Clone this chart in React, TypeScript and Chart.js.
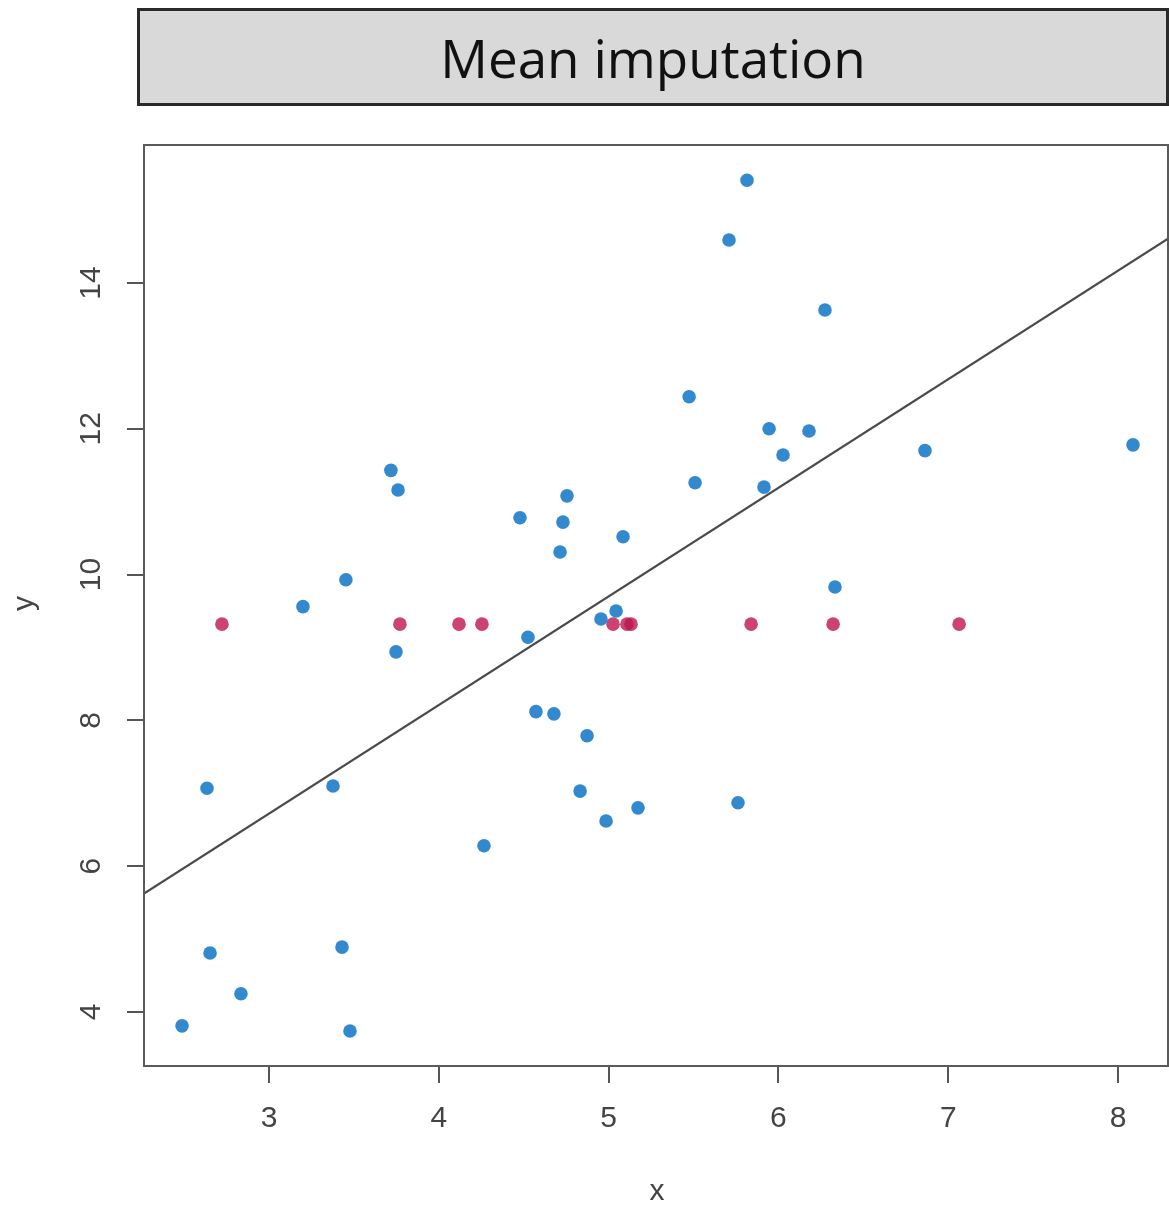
import React, { useEffect, useRef } from "react";
import { Chart, registerables } from "chart.js";

Chart.register(...registerables);

const titleText = "Mean imputation";
const xLabel = "x";
const yLabel = "y";

const observedX = [
  5.815, 5.709, 6.274, 5.474, 5.945, 6.18, 6.863, 8.088, 6.027, 3.718,
  3.76, 5.509, 5.915, 4.755, 4.478, 4.731, 5.085, 4.714, 3.453, 6.333,
  3.2, 5.044, 4.955, 4.525, 3.748, 4.572, 4.678, 4.873, 2.635, 3.377,
  4.832, 5.762, 5.173, 4.985, 4.266, 2.653, 3.43, 2.835, 2.488, 3.477,
];
const observedY = [
  15.41, 14.59, 13.63, 12.44, 12.0, 11.97, 11.7, 11.78, 11.64, 11.43,
  11.16, 11.26, 11.2, 11.08, 10.78, 10.72, 10.52, 10.31, 9.93, 9.83,
  9.56, 9.5, 9.39, 9.14, 8.94, 8.12, 8.09, 7.79, 7.07, 7.1,
  7.03, 6.87, 6.8, 6.62, 6.28, 4.81, 4.89, 4.25, 3.81, 3.74,
];
const imputedX = [2.723, 3.771, 4.119, 4.254, 5.026, 5.108, 5.132, 5.839, 6.322, 7.064];
const imputedY = [9.32, 9.32, 9.32, 9.32, 9.32, 9.32, 9.32, 9.32, 9.32, 9.32];

const xTicks = [3, 4, 5, 6, 7, 8];
const yTicks = [4, 6, 8, 10, 12, 14];
const xRange = [2.264, 8.294];
const yRange = [3.259, 15.893];

const fitIntercept = 2.25;
const fitSlope = 1.49;

const W = 1169;
const H = 1215;

export default function App() {
  const ref = useRef<HTMLCanvasElement | null>(null);

  useEffect(() => {
    const canvas = ref.current;
    if (!canvas) return;

    const boxAndLabels = {
      id: "boxAndLabels",
      afterDraw(chart: any) {
        const { ctx, chartArea, scales } = chart;
        const xs = scales.x;
        const ys = scales.y;
        ctx.save();
        ctx.strokeStyle = "#5a5a5a";
        ctx.lineWidth = 2;
        ctx.strokeRect(chartArea.left, chartArea.top, chartArea.right - chartArea.left, chartArea.bottom - chartArea.top);
        ctx.fillStyle = "#444";
        ctx.font = "30px 'Liberation Sans', Arial, sans-serif";
        ctx.textAlign = "center";
        ctx.textBaseline = "middle";
        xTicks.forEach((v) => {
          ctx.fillText(String(v), xs.getPixelForValue(v), 1119);
        });
        yTicks.forEach((v) => {
          ctx.save();
          ctx.translate(92, ys.getPixelForValue(v));
          ctx.rotate(-Math.PI / 2);
          ctx.fillText(String(v), 0, 0);
          ctx.restore();
        });
        ctx.fillText(xLabel, (chartArea.left + chartArea.right) / 2 + 1, 1192);
        ctx.save();
        ctx.translate(25, (chartArea.top + chartArea.bottom) / 2 - 2);
        ctx.rotate(-Math.PI / 2);
        ctx.fillText(yLabel, 0, 0);
        ctx.restore();
        ctx.restore();
      },
    };

    const chart = new Chart(canvas, {
      type: "scatter",
      data: {
        datasets: [
          {
            type: "line" as any,
            label: "fit",
            data: [
              { x: xRange[0], y: fitIntercept + fitSlope * xRange[0] },
              { x: xRange[1], y: fitIntercept + fitSlope * xRange[1] },
            ],
            borderColor: "#4a4a4a",
            borderWidth: 2.2,
            pointRadius: 0,
            fill: false,
            order: 0,
          },
          {
            label: "observed",
            data: observedX.map((x, i) => ({ x, y: observedY[i] })),
            backgroundColor: "rgba(0,108,194,0.8)",
            borderWidth: 0,
            pointRadius: 6.8,
            order: 1,
          },
          {
            label: "imputed",
            data: imputedX.map((x, i) => ({ x, y: imputedY[i] })),
            backgroundColor: "rgba(190,20,80,0.8)",
            borderWidth: 0,
            pointRadius: 6.8,
            order: 1,
          },
        ],
      },
      options: {
        animation: false,
        responsive: false,
        devicePixelRatio: 1,
        layout: { autoPadding: false, padding: { top: 145, left: 0, right: 1, bottom: 0 } },
        plugins: {
          legend: { display: false },
          tooltip: { enabled: false },
          title: { display: false },
        },
        scales: {
          x: {
            type: "linear",
            min: xRange[0],
            max: xRange[1],
            border: { display: false },
            grid: {
              display: true,
              drawOnChartArea: false,
              drawTicks: true,
              tickLength: 17,
              color: "#555",
              lineWidth: 2,
            },
            ticks: { display: false },
            afterBuildTicks: (scale: any) => {
              scale.ticks = xTicks.map((v) => ({ value: v }));
            },
            afterFit: (scale: any) => {
              scale.height = 149;
            },
          },
          y: {
            type: "linear",
            min: yRange[0],
            max: yRange[1],
            border: { display: false },
            grid: {
              display: true,
              drawOnChartArea: false,
              drawTicks: true,
              tickLength: 17,
              color: "#555",
              lineWidth: 2,
            },
            ticks: { display: false },
            afterBuildTicks: (scale: any) => {
              scale.ticks = yTicks.map((v) => ({ value: v }));
            },
            afterFit: (scale: any) => {
              scale.width = 144;
            },
          },
        },
      },
      plugins: [boxAndLabels],
    });

    return () => chart.destroy();
  }, []);

  return (
    <div
      style={{
        position: "fixed",
        left: 0,
        top: 0,
        width: W,
        height: H,
        overflow: "hidden",
        background: "#fff",
      }}
    >
      <canvas ref={ref} width={W} height={H} style={{ width: W, height: H, display: "block" }} />
      <div
        style={{
          position: "absolute",
          left: 137,
          top: 8,
          width: W - 137,
          height: 98,
          boxSizing: "border-box",
          border: "3px solid #2a2a2a",
          background: "#d9d9d9",
          display: "flex",
          alignItems: "center",
          justifyContent: "center",
          fontFamily: "'Open Sans', sans-serif",
          fontSize: 53,
          color: "#111",
          lineHeight: 1,
        }}
      >
        {titleText}
      </div>
    </div>
  );
}
